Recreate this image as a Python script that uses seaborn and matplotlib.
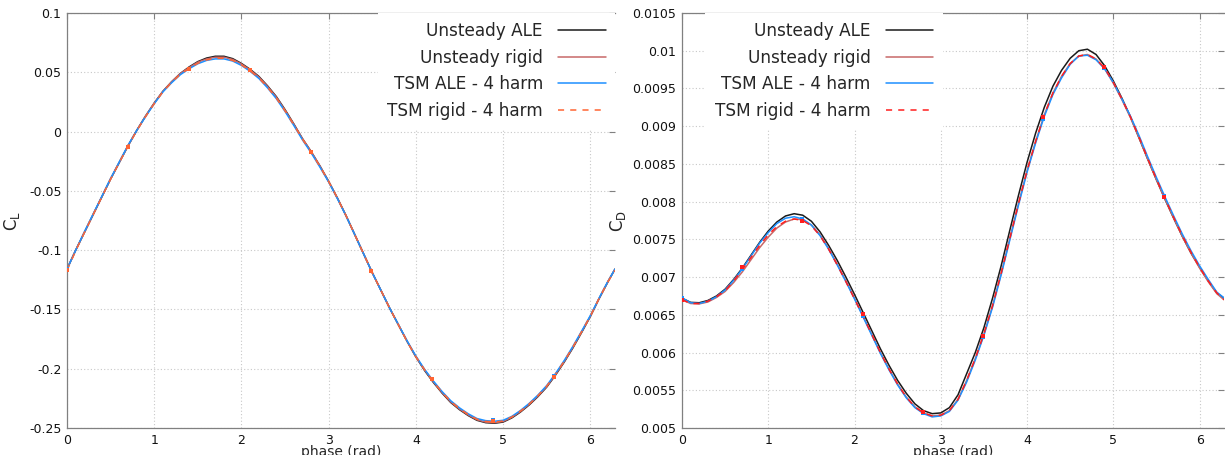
import numpy as np
import pandas as pd
import matplotlib
matplotlib.use("Agg")
import matplotlib.pyplot as plt
import seaborn as sns
from matplotlib.transforms import Bbox, TransformedBbox

# ---------------- data ----------------
phase = [0.0, 0.1, 0.2, 0.3, 0.4, 0.5, 0.6, 0.7, 0.8, 0.9, 1.0, 1.1, 1.2, 1.3, 1.4,
         1.5, 1.6, 1.7, 1.8, 1.9, 2.0, 2.1, 2.2, 2.3, 2.4, 2.5, 2.6, 2.7, 2.8, 2.9,
         3.0, 3.1, 3.2, 3.3, 3.4, 3.5, 3.6, 3.7, 3.8, 3.9, 4.0, 4.1, 4.2, 4.3, 4.4,
         4.5, 4.6, 4.7, 4.8, 4.9, 5.0, 5.1, 5.2, 5.3, 5.4, 5.5, 5.6, 5.7, 5.8, 5.9,
         6.0, 6.1, 6.2, 6.283]

cl_unsteady_ale = [-0.116, -0.100, -0.085, -0.070, -0.055, -0.040, -0.026, -0.012,
                   0.001, 0.013, 0.024, 0.034, 0.042, 0.049, 0.0545, 0.0590, 0.0620,
                   0.0635, 0.0635, 0.0615, 0.0575, 0.0525, 0.0465, 0.0385, 0.0295,
                   0.0185, 0.0065, -0.006, -0.017, -0.029, -0.042, -0.056, -0.071,
                   -0.087, -0.103, -0.119, -0.134, -0.149, -0.163, -0.177, -0.190,
                   -0.2015, -0.2115, -0.2205, -0.2285, -0.2345, -0.2395, -0.2435,
                   -0.2455, -0.246, -0.245, -0.2415, -0.2365, -0.2305, -0.2235,
                   -0.2155, -0.2055, -0.1945, -0.1825, -0.1695, -0.156, -0.141,
                   -0.127, -0.116]
cl_unsteady_rigid = [-0.116, -0.100, -0.085, -0.070, -0.055, -0.040, -0.026, -0.012,
                     0.001, 0.013, 0.024, 0.034, 0.042, 0.049, 0.054, 0.0585, 0.0612,
                     0.0627, 0.0627, 0.0608, 0.0570, 0.0520, 0.0460, 0.0380, 0.0290,
                     0.0180, 0.0062, -0.006, -0.017, -0.029, -0.042, -0.056, -0.071,
                     -0.087, -0.103, -0.119, -0.134, -0.149, -0.163, -0.177, -0.190,
                     -0.201, -0.211, -0.220, -0.228, -0.234, -0.239, -0.243, -0.245,
                     -0.2455, -0.2445, -0.241, -0.236, -0.230, -0.223, -0.215,
                     -0.205, -0.194, -0.182, -0.169, -0.156, -0.141, -0.127, -0.116]
cl_tsm_ale = [-0.116, -0.100, -0.0845, -0.0695, -0.0545, -0.0395, -0.0255, -0.0115,
              0.001, 0.0125, 0.0235, 0.0335, 0.0412, 0.048, 0.053, 0.0572, 0.0600,
              0.0613, 0.0613, 0.0595, 0.0558, 0.0508, 0.0448, 0.0368, 0.0278,
              0.0170, 0.0052, -0.007, -0.018, -0.030, -0.0425, -0.0565, -0.0712,
              -0.087, -0.103, -0.119, -0.134, -0.149, -0.1628, -0.1765, -0.1893,
              -0.2005, -0.2103, -0.2192, -0.227, -0.233, -0.238, -0.242, -0.2438,
              -0.2443, -0.2435, -0.2402, -0.2352, -0.2292, -0.2222, -0.2142,
              -0.2042, -0.1932, -0.1812, -0.1684, -0.1552, -0.1406, -0.1265, -0.116]
cl_tsm_rigid = [-0.117, -0.1005, -0.085, -0.070, -0.055, -0.040, -0.026, -0.012,
                0.0008, 0.0125, 0.0235, 0.0335, 0.0415, 0.0483, 0.0533, 0.0576,
                0.0604, 0.0618, 0.0618, 0.0600, 0.0562, 0.0512, 0.0452, 0.0372,
                0.0282, 0.0174, 0.0056, -0.0065, -0.0175, -0.0295, -0.0422, -0.0562,
                -0.0711, -0.087, -0.103, -0.119, -0.134, -0.149, -0.163, -0.177,
                -0.1898, -0.2008, -0.2108, -0.2198, -0.2276, -0.2336, -0.2386,
                -0.2426, -0.2444, -0.2449, -0.2441, -0.2407, -0.2357, -0.2297,
                -0.2227, -0.2147, -0.2047, -0.1937, -0.1817, -0.1688, -0.1556,
                -0.1408, -0.1268, -0.117]

cd_unsteady_ale = [0.00672, 0.006665, 0.00666, 0.00669, 0.00675, 0.00684, 0.00697,
                   0.00712, 0.00729, 0.00746, 0.00761, 0.00773, 0.00781, 0.00784,
                   0.00782, 0.00774, 0.00760, 0.00742, 0.00722, 0.00700, 0.00677,
                   0.00653, 0.00629, 0.00605, 0.00583, 0.00563, 0.00546, 0.00532,
                   0.00523, 0.00519, 0.00520, 0.00527, 0.00544, 0.00572, 0.00600,
                   0.00633, 0.00672, 0.00715, 0.00762, 0.00808, 0.00852, 0.00891,
                   0.00925, 0.00953, 0.00974, 0.00990, 0.01000, 0.01002, 0.00995,
                   0.00980, 0.00960, 0.00937, 0.00912, 0.00884, 0.00856, 0.00829,
                   0.00803, 0.00778, 0.00754, 0.00732, 0.00713, 0.00695, 0.00679,
                   0.00672]
cd_unsteady_rigid = [0.00670, 0.00665, 0.006645, 0.00667, 0.00673, 0.00681, 0.00693,
                     0.00707, 0.00723, 0.00739, 0.00753, 0.00765, 0.00773, 0.00777,
                     0.00776, 0.00769, 0.00756, 0.00738, 0.00717, 0.00695, 0.00672,
                     0.00648, 0.00624, 0.00600, 0.00578, 0.00558, 0.00541, 0.00528,
                     0.00520, 0.00516, 0.00517, 0.00523, 0.00538, 0.00563, 0.00592,
                     0.00624, 0.00662, 0.00705, 0.00751, 0.00797, 0.00841, 0.00880,
                     0.00915, 0.00944, 0.00966, 0.00983, 0.00993, 0.00995, 0.00989,
                     0.00976, 0.00957, 0.00935, 0.00911, 0.00884, 0.00856, 0.00829,
                     0.00803, 0.00778, 0.00754, 0.00732, 0.00712, 0.00694, 0.00678,
                     0.00670]
cd_tsm_ale = [0.006725, 0.00666, 0.00665, 0.00668, 0.00674, 0.00683, 0.00696,
              0.00711, 0.00728, 0.00745, 0.00759, 0.00771, 0.00778, 0.00780,
              0.00777, 0.00769, 0.00755, 0.00737, 0.00716, 0.00694, 0.00671,
              0.00647, 0.00623, 0.00599, 0.00577, 0.00557, 0.00540, 0.00527,
              0.00519, 0.005147, 0.00516, 0.00522, 0.00537, 0.00561, 0.00590,
              0.00623, 0.00660, 0.00703, 0.00749, 0.00795, 0.00839, 0.00878,
              0.00913, 0.00942, 0.00964, 0.00982, 0.00993, 0.00994, 0.00988,
              0.00976, 0.00958, 0.00936, 0.00913, 0.00887, 0.00859, 0.00832,
              0.00806, 0.00781, 0.00757, 0.00735, 0.00715, 0.00697, 0.00680,
              0.006725]
cd_tsm_rigid = [0.00670, 0.00665, 0.00665, 0.00668, 0.00674, 0.00682, 0.00695,
                0.00710, 0.00726, 0.00742, 0.00756, 0.00767, 0.00774, 0.00777,
                0.00775, 0.00768, 0.00755, 0.00737, 0.00716, 0.00694, 0.00671,
                0.00648, 0.00624, 0.00600, 0.00578, 0.00558, 0.00541, 0.00528,
                0.00520, 0.00516, 0.00517, 0.00523, 0.00538, 0.00563, 0.00592,
                0.00625, 0.00662, 0.00705, 0.00751, 0.00797, 0.00841, 0.00880,
                0.00915, 0.00944, 0.00966, 0.00983, 0.00993, 0.00995, 0.00989,
                0.00977, 0.00958, 0.00936, 0.00912, 0.00885, 0.00857, 0.00830,
                0.00804, 0.00779, 0.00755, 0.00733, 0.00713, 0.00695, 0.00679,
                0.00670]

# TSM time instances (markers)
phase_tsm = [0.0, 0.698, 1.396, 2.094, 2.793, 3.491, 4.189, 4.887, 5.585]
cl_tsm_ale_pts = [-0.116, -0.013, 0.053, 0.052, -0.017, -0.118, -0.209, -0.2435, -0.206]
cl_tsm_rigid_pts = [-0.117, -0.013, 0.053, 0.052, -0.017, -0.118, -0.209, -0.2445, -0.207]
cd_tsm_ale_pts = [0.006725, 0.00711, 0.00777, 0.00649, 0.00520, 0.00620, 0.00910, 0.00977, 0.00808]
cd_tsm_rigid_pts = [0.00670, 0.00713, 0.00775, 0.00651, 0.00521, 0.00622, 0.00912, 0.00979, 0.00806]

labels = ["Unsteady ALE", "Unsteady rigid", "TSM ALE - 4 harm", "TSM rigid - 4 harm"]
x_ticks = [0, 1, 2, 3, 4, 5, 6]
x_ticklabels = ["0", "1", "2", "3", "4", "5", "6"]
cl_ticks = [-0.25, -0.2, -0.15, -0.1, -0.05, 0.0, 0.05, 0.1]
cl_ticklabels = ["-0.25", "-0.2", "-0.15", "-0.1", "-0.05", "0", "0.05", "0.1"]
cd_ticks = [0.005, 0.0055, 0.006, 0.0065, 0.007, 0.0075, 0.008, 0.0085, 0.009,
            0.0095, 0.01, 0.0105]
cd_ticklabels = ["0.005", "0.0055", "0.006", "0.0065", "0.007", "0.0075", "0.008",
                 "0.0085", "0.009", "0.0095", "0.01", "0.0105"]

# ---------------- styling ----------------
sns.set_style("white")
plt.rcParams["font.family"] = ["DejaVu Sans"]

C_BLACK = "#1a1a1a"
C_RIGID = "#c86868"
C_BLUE = "#1e90ff"
C_ORANGE = "#ff6433"
C_RED = "#ff1e1e"
SPINE = "#808080"

fig = plt.figure(figsize=(12.25, 4.65), dpi=100)
W, H = 1225.0, 465.0
ax1 = fig.add_axes([67 / W, (H - 428) / H, (615 - 67) / W, (428 - 13) / H])
ax2 = fig.add_axes([682 / W, (H - 428) / H, (1224 - 682) / W, (428 - 13) / H])


def draw(ax, series, pts_ale, pts_rigid, dash_color):
    colors = [C_BLACK, C_RIGID, C_BLUE, dash_color]
    for i, (vals, col) in enumerate(zip(series, colors)):
        df = pd.DataFrame({"phase": phase, "v": vals})
        sns.lineplot(data=df, x="phase", y="v", ax=ax, color=col, lw=1.1,
                     sort=False, estimator=None, label=labels[i])
    ax.get_lines()[-1].set_dashes([4, 4])
    dfa = pd.DataFrame({"phase": phase_tsm, "v": pts_ale})
    dfr = pd.DataFrame({"phase": phase_tsm, "v": pts_rigid})
    sns.scatterplot(data=dfa, x="phase", y="v", ax=ax, color=C_BLUE, marker="s",
                    s=11, linewidth=0, zorder=5, legend=False)
    sns.scatterplot(data=dfr, x="phase", y="v", ax=ax, color=dash_color, marker="s",
                    s=11, linewidth=0, zorder=6, legend=False)


draw(ax1, [cl_unsteady_ale, cl_unsteady_rigid, cl_tsm_ale, cl_tsm_rigid],
     cl_tsm_ale_pts, cl_tsm_rigid_pts, C_ORANGE)
draw(ax2, [cd_unsteady_ale, cd_unsteady_rigid, cd_tsm_ale, cd_tsm_rigid],
     cd_tsm_ale_pts, cd_tsm_rigid_pts, C_RED)

for ax, ticks, tlabels, ylim in [(ax1, cl_ticks, cl_ticklabels, (-0.25, 0.1)),
                                 (ax2, cd_ticks, cd_ticklabels, (0.005, 0.0105))]:
    ax.set_xlim(0, 2 * np.pi)
    ax.set_ylim(*ylim)
    ax.set_xticks(x_ticks)
    ax.set_xticklabels(x_ticklabels)
    ax.set_yticks(ticks)
    ax.set_yticklabels(tlabels)
    ax.grid(True, color="#c8c8c8", linestyle=(0, (1, 2)), linewidth=0.8)
    ax.set_axisbelow(True)
    ax.tick_params(direction="in", length=4, width=0.8, color=SPINE,
                   top=True, right=True, labelsize=9, pad=4, labelcolor="#111111")
    for s in ["left", "top", "bottom"]:
        ax.spines[s].set_color(SPINE)
        ax.spines[s].set_linewidth(0.9)
    ax.spines["right"].set_visible(False)
    ax.set_xlabel("phase (rad)", fontsize=10)
    ax.xaxis.set_label_coords(0.5, -0.042)
    ax.xaxis.label.set_verticalalignment("top")
    clip = TransformedBbox(Bbox([[0, 10 / H], [1, 1]]), fig.transFigure)
    ax.xaxis.label.set_clip_box(clip)
    ax.xaxis.label.set_clip_on(True)

ax1.set_ylabel(r"C$_\mathregular{L}$", fontsize=12)
ax1.yaxis.set_label_coords(-0.082, 0.5)
ax2.set_ylabel(r"C$_\mathregular{D}$", fontsize=12)
ax2.yaxis.set_label_coords(-0.100, 0.5)

for ax, anchor in [(ax1, (1.0, 1.0)), (ax2, ((942.5 - 682) / 542, 1.0))]:
    handles, labs = ax.get_legend_handles_labels()
    leg = ax.legend(handles[:4], labs[:4], loc="upper right", bbox_to_anchor=anchor,
                    borderaxespad=0, markerfirst=False, fontsize=12.2,
                    handlelength=2.8, handletextpad=0.9, labelspacing=0.5,
                    borderpad=0.55, frameon=True, fancybox=False,
                    framealpha=1.0, facecolor="white", edgecolor="white")
    leg.get_frame().set_linewidth(0)
    leg._legend_box.align = "right"
    leg.set_zorder(10)

fig.savefig("out.png", dpi=100)
